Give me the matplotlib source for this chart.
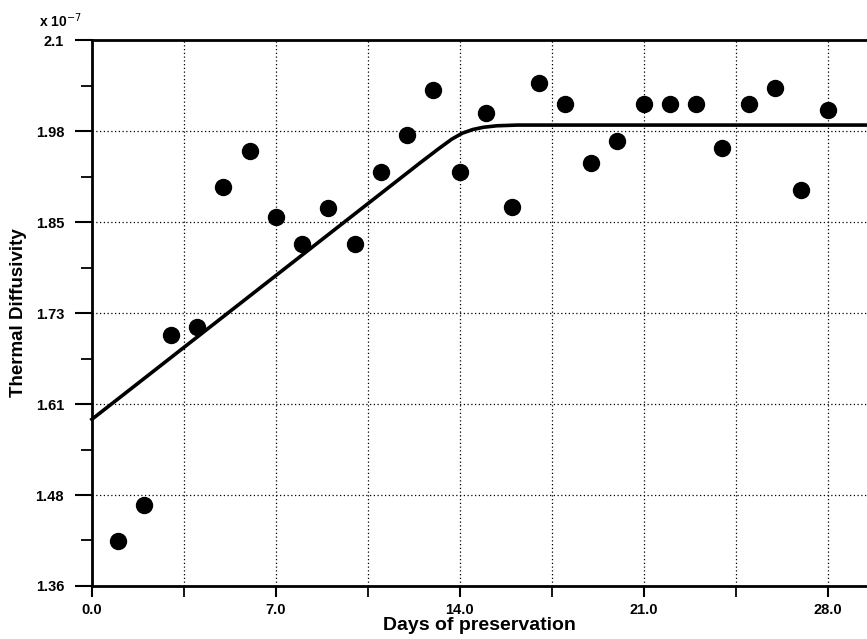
import matplotlib
matplotlib.use("Agg")
import matplotlib.pyplot as plt
from matplotlib.ticker import FixedLocator

# ---- data ----
days = list(range(1, 29))
diffusivity = [1.421, 1.470, 1.700, 1.711, 1.901, 1.950, 1.861, 1.824, 1.872, 1.824,
               1.921, 1.971, 2.032, 1.921, 2.002, 1.874, 2.042, 2.013, 1.933, 1.963,
               2.013, 2.013, 2.013, 1.954, 2.013, 2.035, 1.897, 2.006]

fit_x = [0.0, 12.5, 13.2, 13.7, 14.1, 14.5, 14.9, 15.4, 16.2, 29.5]
fit_y = [1.586, 1.934, 1.953, 1.966, 1.974, 1.979, 1.982, 1.984, 1.985, 1.985]

x_ticks = [0.0, 7.0, 14.0, 21.0, 28.0]
x_minor_ticks = [3.5, 10.5, 17.5, 24.5]
x_tick_labels = ["0.0", "7.0", "14.0", "21.0", "28.0"]
y_tick_labels = ["1.36", "1.48", "1.61", "1.73", "1.85", "1.98", "2.1"]
y_min, y_max = 1.36, 2.10

plt.rcParams['font.family'] = ['Liberation Sans', 'DejaVu Sans']

fig = plt.figure(figsize=(8.67, 6.39), dpi=100)
ax = fig.add_axes([0.106, 0.083, 0.894, 0.854])

n = len(y_tick_labels)
y_ticks = [y_min + k * (y_max - y_min) / (n - 1) for k in range(n)]
y_minor = [(a + b) / 2 for a, b in zip(y_ticks[:-1], y_ticks[1:])]

ax.set_xlim(0, 29.5)
ax.set_ylim(y_min, y_max)

ax.set_xticks(x_ticks)
ax.set_xticklabels(x_tick_labels)
ax.xaxis.set_minor_locator(FixedLocator(x_minor_ticks))
ax.set_yticks(y_ticks)
ax.set_yticklabels(y_tick_labels)
ax.yaxis.set_minor_locator(FixedLocator(y_minor))

ax.grid(True, which='major', axis='both', color='black', linestyle=(0, (1, 2)), linewidth=0.9)
ax.grid(True, which='minor', axis='x', color='black', linestyle=(0, (1, 2)), linewidth=0.9)

ax.plot(fit_x, fit_y, color='black', linewidth=2.6, zorder=3, clip_on=False)
ax.plot(days, diffusivity, 'o', color='black', markersize=11.5, zorder=4)

for side in ['left', 'bottom', 'top']:
    ax.spines[side].set_linewidth(2.0)
ax.spines['right'].set_visible(False)

ax.tick_params(axis='y', which='major', direction='out', length=12, width=1.5,
               labelsize=10.5, colors='black', pad=8)
ax.tick_params(axis='y', which='minor', direction='out', length=8, width=1.3)
ax.tick_params(axis='x', which='major', direction='out', length=8, width=1.5,
               labelsize=10.5, colors='black', pad=4)
ax.tick_params(axis='x', which='minor', direction='out', length=8, width=1.3)
for lab in ax.get_xticklabels() + ax.get_yticklabels():
    lab.set_fontweight('bold')

ax.set_xlabel("Days of preservation", fontsize=14, fontweight='bold', labelpad=0)
ax.set_ylabel("Thermal Diffusivity", fontsize=13.5, fontweight='bold', labelpad=6)

fig.text(0.045, 0.958, r"x 10$^{-7}$", fontsize=10, fontweight='bold', ha='left', va='baseline')

fig.savefig("out.png", dpi=100)
